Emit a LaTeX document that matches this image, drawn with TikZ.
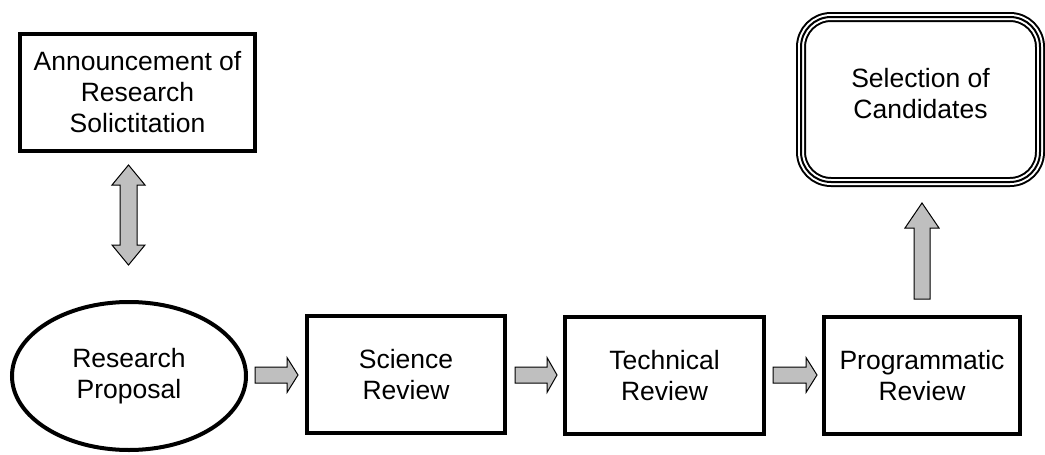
\documentclass[tikz,border=0pt]{standalone}
\usepackage{fontspec}
\setmainfont{Liberation Sans}
\usetikzlibrary{shapes.geometric}
\begin{document}
\begin{tikzpicture}[x=1pt,y=-1pt,
  lbl/.style={font=\fontsize{26.5}{31}\selectfont, align=center, inner sep=0pt},
  box/.style={lbl, draw=black, line width=4.5pt, minimum width=198pt, minimum height=117pt},
  oval/.style={lbl, ellipse, draw=black, line width=4pt, minimum width=234pt, minimum height=148pt},
  goal/.style={lbl, draw=white, line width=6pt, rounded corners=30pt,
    minimum width=239pt, minimum height=165pt, text depth=12pt,
    preaction={draw=black, line width=10pt},
    postaction={draw=black, line width=2pt}},
  blk/.style={fill=black!25, draw=black, line width=1pt, line join=miter}]
\useasboundingbox (0,0) rectangle (1045,455);

% process steps
\node[box, minimum width=234.6pt] (ann) at (137.5,92.5) {Announcement of\\Research\\Solictitation};
\node[oval] (prop) at (129,376) {Research\\Proposal};
\node[box] (sci) at (406,374.5) {Science\\Review};
\node[box, minimum width=199pt] (tech) at (664.5,375.5) {Technical\\Review};
\node[box, minimum width=196pt] (prog) at (922,375.5) {Programmatic\\Review};
\node[goal] (sel) at (920.5,99.5) {Selection of\\Candidates};

% block arrows between the steps
\draw[blk] (128.5,165) -- (145,185) -- (137,185) -- (137,245) -- (145,245)
  -- (128.5,265) -- (112,245) -- (120,245) -- (120,185) -- (112,185) -- cycle;
\draw[blk] (255,367) -- (287,367) -- (287,357.5) -- (298,375) -- (287,392.5)
  -- (287,383) -- (255,383) -- cycle;
\draw[blk] (515,367) -- (547,367) -- (547,357.5) -- (557,375) -- (547,392.5)
  -- (547,383) -- (515,383) -- cycle;
\draw[blk] (773,367) -- (806,367) -- (806,357.5) -- (817,375) -- (806,392.5)
  -- (806,383) -- (773,383) -- cycle;
\draw[blk] (922,203) -- (939,228) -- (930,228) -- (930,299) -- (914,299)
  -- (914,228) -- (905,228) -- cycle;
\end{tikzpicture}
\end{document}
